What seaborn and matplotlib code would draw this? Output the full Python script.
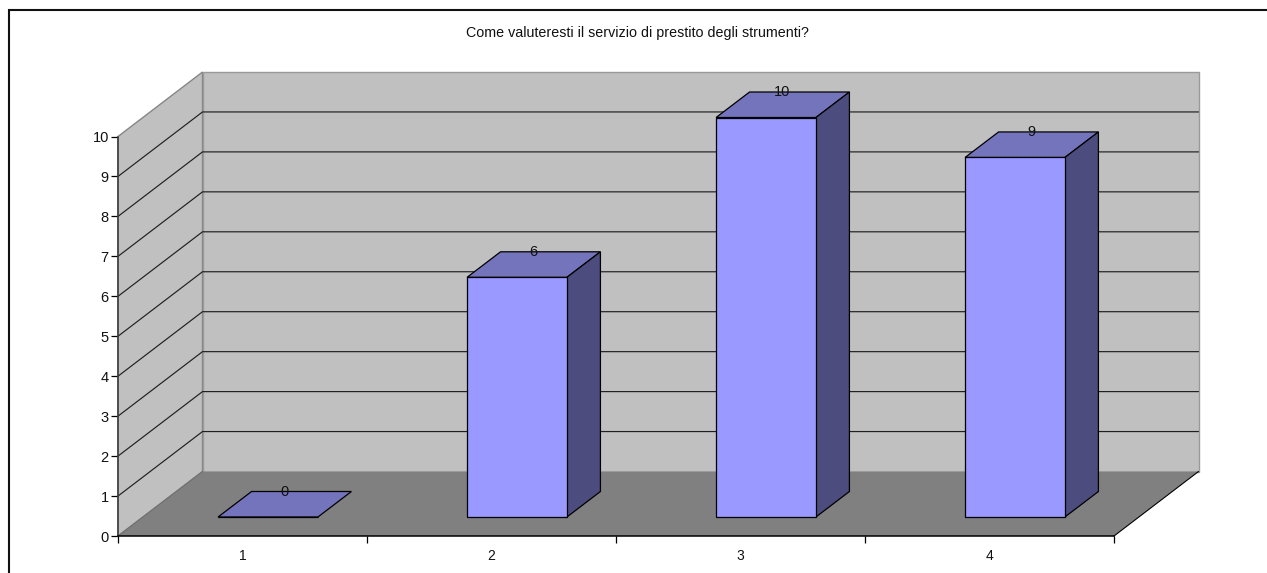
import numpy as np
import pandas as pd
import seaborn as sns
import matplotlib.pyplot as plt
from matplotlib.patches import Polygon

categories = ["1", "2", "3", "4"]
values = [0, 6, 10, 9]
y_ticks = [0, 1, 2, 3, 4, 5, 6, 7, 8, 9, 10]
title = "Come valuteresti il servizio di prestito degli strumenti?"

W, H = 1267, 573

sns.set_theme(style="white")
plt.rcParams['font.family'] = ['Liberation Sans', 'DejaVu Sans']

fig = plt.figure(figsize=(W / 100, H / 100), dpi=100, facecolor="white")


def pixel_axes(left, top, right, bottom, z):
    a = fig.add_axes([left / W, 1 - bottom / H, (right - left) / W, (bottom - top) / H], zorder=z)
    a.patch.set_alpha(0)
    return a


# room: front plane of the axis and how far the walls are pushed back
x0, x1, y0, y10 = 118, 1114, 536, 136.5
wall_dx, wall_dy = 84.5, -64.5
# bars sit a bit inside the room
bar_dx, bar_dy = 25.5, -19
depth_dx, depth_dy = 33.5, -25.5

# pixel canvas for the walls and the chart border
bg = pixel_axes(0, 0, W, H, 0)
bg.set_xlim(0, W)
bg.set_ylim(H, 0)
bg.axis("off")
bg.plot([9, 9, W], [H, 10, 10], color="#111111", lw=1.5, solid_joinstyle="miter")


def val_y(v):
    return y0 + (y10 - y0) * v / y_ticks[-1]


wall = "#c0c0c0"
edge = "#868686"
bg.add_patch(Polygon([(x0, y0), (x0 + wall_dx, y0 + wall_dy), (x0 + wall_dx, y10 + wall_dy), (x0, y10)],
                     fc=wall, ec=edge, lw=1))
bg.add_patch(Polygon([(x0 + wall_dx, y0 + wall_dy), (x1 + wall_dx, y0 + wall_dy),
                      (x1 + wall_dx, y10 + wall_dy), (x0 + wall_dx, y10 + wall_dy)],
                     fc=wall, ec="#9a9a9a", lw=1))
bg.add_patch(Polygon([(x0, y0), (x1, y0), (x1 + wall_dx, y0 + wall_dy), (x0 + wall_dx, y0 + wall_dy)],
                     fc="#808080", ec="none"))
bg.plot([x0, x0 + wall_dx], [y0, y0 + wall_dy], color="#707070", lw=0.8)
bg.plot([x1, x1 + wall_dx], [y0, y0 + wall_dy], color="black", lw=0.8)

# gridlines on side wall and back wall
for v in y_ticks[1:-1]:
    yy = val_y(v)
    bg.plot([x0, x0 + wall_dx, x1 + wall_dx], [yy, yy + wall_dy, yy + wall_dy], color="#202020", lw=0.85)

# axis on the front plane
ax = pixel_axes(x0, y10, x1, y0, 1)
ax.set_xlim(0, len(categories))
ax.set_ylim(y_ticks[0], y_ticks[-1])
ax.set_yticks(y_ticks)
ax.set_xticks(range(len(categories) + 1))
ax.set_xticklabels([])
ax.set_xticks(np.arange(len(categories)) + 0.5, labels=categories, minor=True)
ax.tick_params(axis="x", which="major", length=5, width=0.9, color="black", bottom=True)
ax.tick_params(axis="x", which="minor", length=0, pad=9.5, labelsize=10, labelcolor="#111111")
ax.tick_params(axis="y", length=5, width=0.9, color="black", left=True, labelsize=10.5, pad=1.6, labelcolor="#111111")
sns.despine(ax=ax)
ax.spines["left"].set_color("#404040")
ax.spines["left"].set_linewidth(1.2)
ax.spines["bottom"].set_color("black")
ax.spines["bottom"].set_linewidth(1.1)

# front faces of the bars come from seaborn
bars = pixel_axes(x0 + bar_dx, y10 + bar_dy, x1 + bar_dx, y0 + bar_dy, 2)
df = pd.DataFrame({"voto": categories, "n": values})
sns.barplot(data=df, x="voto", y="n", ax=bars, color="#9999ff", saturation=1, width=0.401,
            edgecolor="black", linewidth=0.9, zorder=3)
bars.set_xlim(-0.5, len(categories) - 0.5)
bars.set_ylim(y_ticks[0], y_ticks[-1])
bars.axis("off")
for patch in bars.patches:
    patch.set_clip_on(False)

# top and side faces, taken from the seaborn bars
for patch, v in zip(bars.patches, values):
    corners = bars.transData.transform([(patch.get_x(), v), (patch.get_x() + patch.get_width(), v),
                                        (patch.get_x() + patch.get_width(), 0)])
    (xl, yt), (xr, _), (_, yb) = [(c[0], H - c[1]) for c in corners]
    bg.add_patch(Polygon([(xl, yt), (xr, yt), (xr + depth_dx, yt + depth_dy), (xl + depth_dx, yt + depth_dy)],
                         fc="#7474bd", ec="black", lw=0.9, zorder=5))
    if v > 0:
        bg.add_patch(Polygon([(xr, yt), (xr + depth_dx, yt + depth_dy), (xr + depth_dx, yb + depth_dy), (xr, yb)],
                             fc="#4c4c7e", ec="black", lw=0.9, zorder=5))
    bg.text((xl + xr) / 2 + depth_dx / 2 - 0.5, yt + depth_dy, str(v), ha="center", va="center",
            fontsize=10.5, color="#111111", zorder=6)

fig.text(637 / W, 1 - 33 / H, title, ha="center", va="center", fontsize=10.3, color="#111111")

fig.savefig("out.png", dpi=100)
